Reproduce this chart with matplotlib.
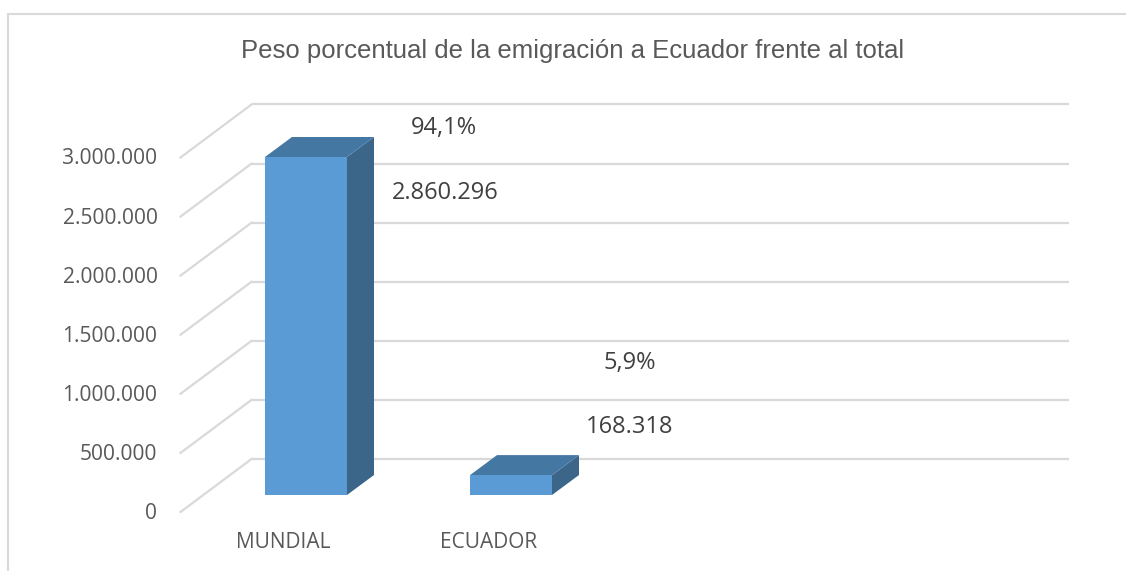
import matplotlib
matplotlib.use("Agg")
import matplotlib.pyplot as plt
import numpy as np
from matplotlib.transforms import Affine2D, IdentityTransform
from matplotlib.patches import Polygon, Rectangle
from matplotlib.lines import Line2D

# ---- data ----
categories = ["MUNDIAL", "ECUADOR"]
values = [2860296, 168318]
percent_labels = ["94,1%", "5,9%"]
value_labels = ["2.860.296", "168.318"]
yticks = [0, 500000, 1000000, 1500000, 2000000, 2500000, 3000000]
ytick_labels = ["0", "500.000", "1.000.000", "1.500.000", "2.000.000", "2.500.000", "3.000.000"]
title = "Peso porcentual de la emigración a Ecuador frente al total"

# ---- layout ----
W, H, DPI = 1126, 571, 100
fig = plt.figure(figsize=(W / DPI, H / DPI), dpi=DPI)
ax = fig.add_axes([0, 0, 1, 1])
ax.set_axis_off()

X0, SP = 306.0, 205.0          # pixel of category 0 (bar plane), pixels per category
Y0 = H - 495.0                  # pixel (from bottom) of value 0 on bar plane
K = 338.0 / 2860296.0           # pixels per unit value
ax.set_xlim(-X0 / SP, (W - X0) / SP)
ax.set_ylim(-Y0 / K, (H - Y0) / K)

XL, XR = -0.5, 3.49             # plot-area extent in category units
BAR_W = 0.4
BACK = (48, 36)                 # bar plane -> back wall (px, up positive)
FRONT = (-23, -17)              # bar plane -> floor front edge
DEPTH = (27, 20)                # bar depth offset

def off(d):
    return ax.transData + Affine2D().translate(d[0], d[1])

def disp(x, y, d=(0, 0)):
    p = ax.transData.transform((x, y))
    return (p[0] + d[0], p[1] + d[1])

grid_c = "#D9D9D9"
# back wall gridlines
for v in yticks:
    ax.plot([XL, XR], [v, v], transform=off(BACK), color=grid_c, lw=1.6,
            solid_capstyle="butt", zorder=1)
    # floor/side diagonal lines
    a = disp(XL, v, FRONT)
    b = disp(XL, v, BACK)
    ax.add_line(Line2D([a[0], b[0]], [a[1], b[1]], transform=IdentityTransform(),
                       color=grid_c, lw=1.6, zorder=1))

# bars
front_c, top_c, side_c = "#5B9BD5", "#4577A3", "#3B6589"
for i, v in enumerate(values):
    x0, x1 = i - BAR_W / 2, i + BAR_W / 2
    side = [disp(x1, 0), disp(x1, v), disp(x1, v, DEPTH), disp(x1, 0, DEPTH)]
    top = [disp(x0, v), disp(x1, v), disp(x1, v, DEPTH), disp(x0, v, DEPTH)]
    ax.add_patch(Polygon(side, closed=True, transform=IdentityTransform(),
                         facecolor=side_c, edgecolor="none", zorder=3))
    ax.add_patch(Polygon(top, closed=True, transform=IdentityTransform(),
                         facecolor=top_c, edgecolor="none", zorder=3))
    ax.add_patch(Rectangle((x0, 0), BAR_W, v, facecolor=front_c,
                           edgecolor="none", zorder=4))

# y tick labels
tick_font = dict(family="Open Sans", size=15.1, color="#595959")
for v, lab in zip(yticks, ytick_labels):
    ax.text(XL, v, lab, transform=off((FRONT[0] - 23, FRONT[1] - 1.5)),
            ha="right", va="center", **tick_font)

# category labels
for i, lab in enumerate(categories):
    ax.text(i, 0, lab, transform=off((FRONT[0] + 0.5, FRONT[1] - 31)),
            ha="center", va="center", family="Open Sans", size=15, color="#595959")

# data labels (pixel offsets from bar top)
pct_off = [(138, 29), (119, 112)]
val_off = [(139, -36), (119, 48)]
lab_font = dict(family="Open Sans", size=17, color="#404040")
for i, v in enumerate(values):
    ax.text(i, v, percent_labels[i], transform=off(pct_off[i]),
            ha="center", va="center", **lab_font)
    ax.text(i, v, value_labels[i], transform=off(val_off[i]),
            ha="center", va="center", **lab_font)

# title
fig.text(573 / W, 1 - 51 / H, title, ha="center", va="center",
         family="Liberation Sans", size=18.5, color="#595959")

# chart border
border = Rectangle((7.5, -10), W + 20, H - 13.5 + 10, transform=IdentityTransform(),
                   facecolor="none", edgecolor=grid_c, lw=1.5, zorder=0)
fig.patches.append(border)

fig.savefig("out.png", dpi=DPI)
